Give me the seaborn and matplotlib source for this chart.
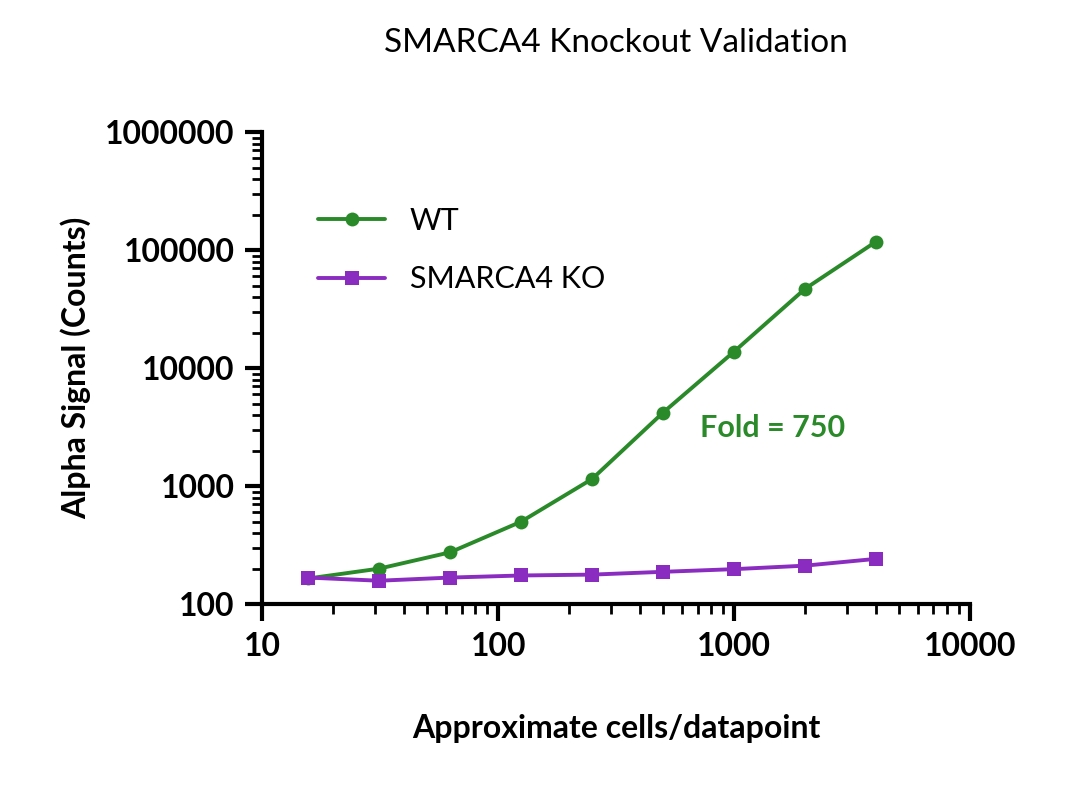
import numpy as np
import pandas as pd
import matplotlib
matplotlib.use("Agg")
import matplotlib.pyplot as plt
import seaborn as sns
from matplotlib.ticker import FixedLocator, FixedFormatter, LogLocator, NullFormatter

cells = [15.625, 31.25, 62.5, 125, 250, 500, 1000, 2000, 4000]
wt = [165, 200, 275, 500, 1150, 4200, 13800, 47000, 118000]
ko = [168, 158, 168, 175, 178, 188, 198, 212, 242]

df = pd.DataFrame({
    "cells": cells * 2,
    "signal": wt + ko,
    "group": ["WT"] * len(cells) + ["SMARCA4 KO"] * len(cells),
})

sns.set_style("ticks")
plt.rcParams["font.family"] = ["Lato", "DejaVu Sans"]
plt.rcParams["text.color"] = "black"
plt.rcParams["axes.labelcolor"] = "black"
plt.rcParams["xtick.color"] = "black"
plt.rcParams["ytick.color"] = "black"
plt.rcParams["axes.edgecolor"] = "black"

green = "#2a8a2a"
purple = "#8a2cc0"

fig = plt.figure(figsize=(10.8, 7.96), dpi=100)
ax = fig.add_axes([0.243, 0.241, 0.655, 0.593])

sns.lineplot(data=df, x="cells", y="signal", hue="group", style="group",
             markers={"WT": "o", "SMARCA4 KO": "s"}, dashes=False,
             palette={"WT": green, "SMARCA4 KO": purple},
             markersize=10, linewidth=2.8, markeredgewidth=0, ax=ax)

ax.set_xscale("log")
ax.set_yscale("log")
ax.set_xlim(10, 10000)
ax.set_ylim(100, 1000000)

xt = [10, 100, 1000, 10000]
yt = [100, 1000, 10000, 100000, 1000000]
ax.xaxis.set_major_locator(FixedLocator(xt))
ax.xaxis.set_major_formatter(FixedFormatter([str(v) for v in xt]))
ax.yaxis.set_major_locator(FixedLocator(yt))
ax.yaxis.set_major_formatter(FixedFormatter([str(v) for v in yt]))
ax.xaxis.set_minor_locator(LogLocator(base=10, subs=np.arange(2, 10)))
ax.yaxis.set_minor_locator(LogLocator(base=10, subs=np.arange(2, 10)))
ax.xaxis.set_minor_formatter(NullFormatter())
ax.yaxis.set_minor_formatter(NullFormatter())

for s in ["top", "right"]:
    ax.spines[s].set_visible(False)
for s in ["left", "bottom"]:
    ax.spines[s].set_linewidth(3)
ax.tick_params(which="major", length=12, width=3, labelsize=23, pad=8)
ax.tick_params(which="minor", length=7, width=2)
for lab in ax.get_xticklabels() + ax.get_yticklabels():
    lab.set_fontweight("bold")

ax.set_xlabel("Approximate cells/datapoint", fontsize=23, fontweight="bold", labelpad=38)
ax.set_ylabel("Alpha Signal (Counts)", fontsize=23, fontweight="bold", labelpad=10)
ax.set_title("SMARCA4 Knockout Validation", fontsize=24, pad=58)

ax.text(720, 2600, "Fold = 750", color=green, fontsize=22, fontweight="bold")

leg = ax.legend(loc="upper left", bbox_to_anchor=(0.04, 0.9), frameon=False,
                fontsize=22, handlelength=2.2, labelspacing=1.0, title=None)

fig.savefig("out.png", dpi=100)
